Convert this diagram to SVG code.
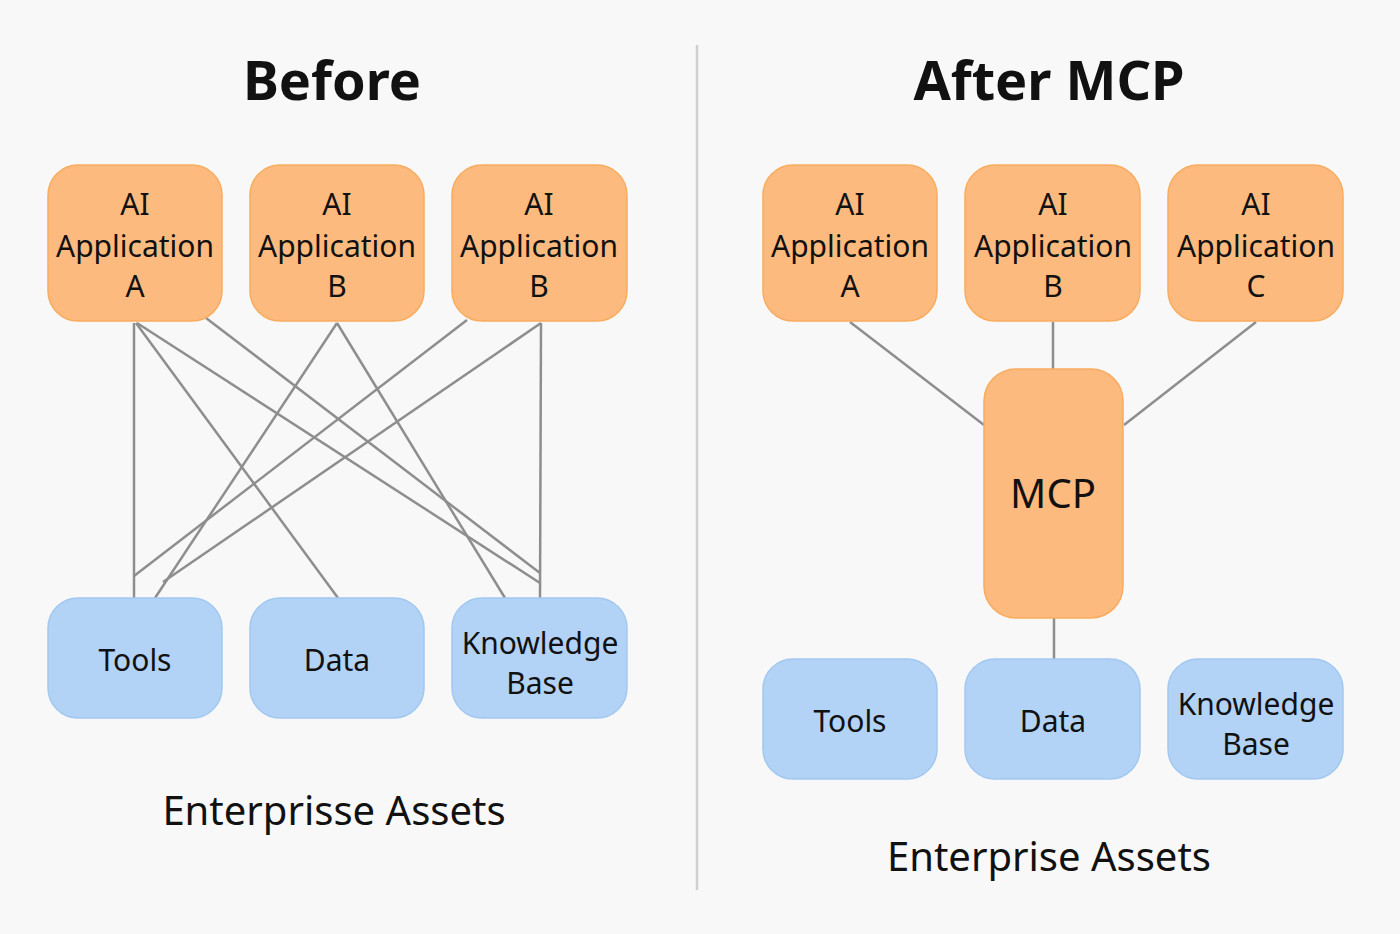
<svg xmlns="http://www.w3.org/2000/svg" width="1400" height="934" viewBox="0 0 1400 934">
<style>
text{font-family:"Noto Sans","Open Sans",sans-serif;fill:#111;text-anchor:middle}
.o{fill:#FDBA7E;stroke:#F8AC5E;stroke-width:1.5}
.b{fill:#B3D3F6;stroke:#A2C8F0;stroke-width:1.5}
.t{font-size:30px}
.h{font-size:54px;font-weight:bold}
.f{font-size:40px}
#conn line{stroke:#8E8E8E;stroke-width:2.5}
</style>
<rect width="1400" height="934" fill="#F8F8F8"/>
<line x1="697" y1="45" x2="697" y2="890" stroke="#D0D0D0" stroke-width="2.5"/>
<text x="332" y="100" class="h">Before</text>
<text x="1049" y="100" class="h">After MCP</text>
<g id="conn">
<line x1="134" y1="323" x2="134" y2="598"/>
<line x1="136" y1="323" x2="338" y2="598"/>
<line x1="137" y1="323" x2="540" y2="583"/>
<line x1="206" y1="318" x2="540" y2="573"/>
<line x1="337" y1="323" x2="155" y2="598"/>
<line x1="337" y1="323" x2="505" y2="598"/>
<line x1="467" y1="320" x2="134" y2="576"/>
<line x1="541" y1="323" x2="163" y2="582"/>
<line x1="541" y1="323" x2="540" y2="598"/>
<line x1="850" y1="322" x2="984" y2="425"/>
<line x1="1053" y1="322" x2="1053" y2="369"/>
<line x1="1256" y1="322" x2="1124" y2="425"/>
<line x1="1054" y1="618" x2="1054" y2="659"/>
</g>
<g id="a1"><rect class="o" x="48" y="165" width="174" height="156" rx="30"/><text class="t" x="135" y="215">AI</text><text class="t" x="135" y="257">Application</text><text class="t" x="135" y="297">A</text></g>
<g id="a2"><rect class="o" x="250" y="165" width="174" height="156" rx="30"/><text class="t" x="337" y="215">AI</text><text class="t" x="337" y="257">Application</text><text class="t" x="337" y="297">B</text></g>
<g id="a3"><rect class="o" x="452" y="165" width="175" height="156" rx="30"/><text class="t" x="539" y="215">AI</text><text class="t" x="539" y="257">Application</text><text class="t" x="539" y="297">B</text></g>
<g id="t1"><rect class="b" x="48" y="598" width="174" height="120" rx="30"/><text class="t" x="135" y="671">Tools</text></g>
<g id="d1"><rect class="b" x="250" y="598" width="174" height="120" rx="30"/><text class="t" x="337" y="671">Data</text></g>
<g id="k1"><rect class="b" x="452" y="598" width="175" height="120" rx="30"/><text class="t" x="540" y="654">Knowledge</text><text class="t" x="540" y="694">Base</text></g>
<text x="334" y="825" class="f">Enterprisse Assets</text>
<g id="a4"><rect class="o" x="763" y="165" width="174" height="156" rx="30"/><text class="t" x="850" y="215">AI</text><text class="t" x="850" y="257">Application</text><text class="t" x="850" y="297">A</text></g>
<g id="a5"><rect class="o" x="965" y="165" width="175" height="156" rx="30"/><text class="t" x="1053" y="215">AI</text><text class="t" x="1053" y="257">Application</text><text class="t" x="1053" y="297">B</text></g>
<g id="a6"><rect class="o" x="1168" y="165" width="175" height="156" rx="30"/><text class="t" x="1256" y="215">AI</text><text class="t" x="1256" y="257">Application</text><text class="t" x="1256" y="297">C</text></g>
<g id="mcp"><rect class="o" x="984" y="369" width="139" height="249" rx="32"/><text x="1053" y="508" style="font-size:40px">MCP</text></g>
<g id="t2"><rect class="b" x="763" y="659" width="174" height="120" rx="30"/><text class="t" x="850" y="732">Tools</text></g>
<g id="d2"><rect class="b" x="965" y="659" width="175" height="120" rx="30"/><text class="t" x="1053" y="732">Data</text></g>
<g id="k2"><rect class="b" x="1168" y="659" width="175" height="120" rx="30"/><text class="t" x="1256" y="715">Knowledge</text><text class="t" x="1256" y="755">Base</text></g>
<text x="1049" y="871" class="f">Enterprise Assets</text>
</svg>
